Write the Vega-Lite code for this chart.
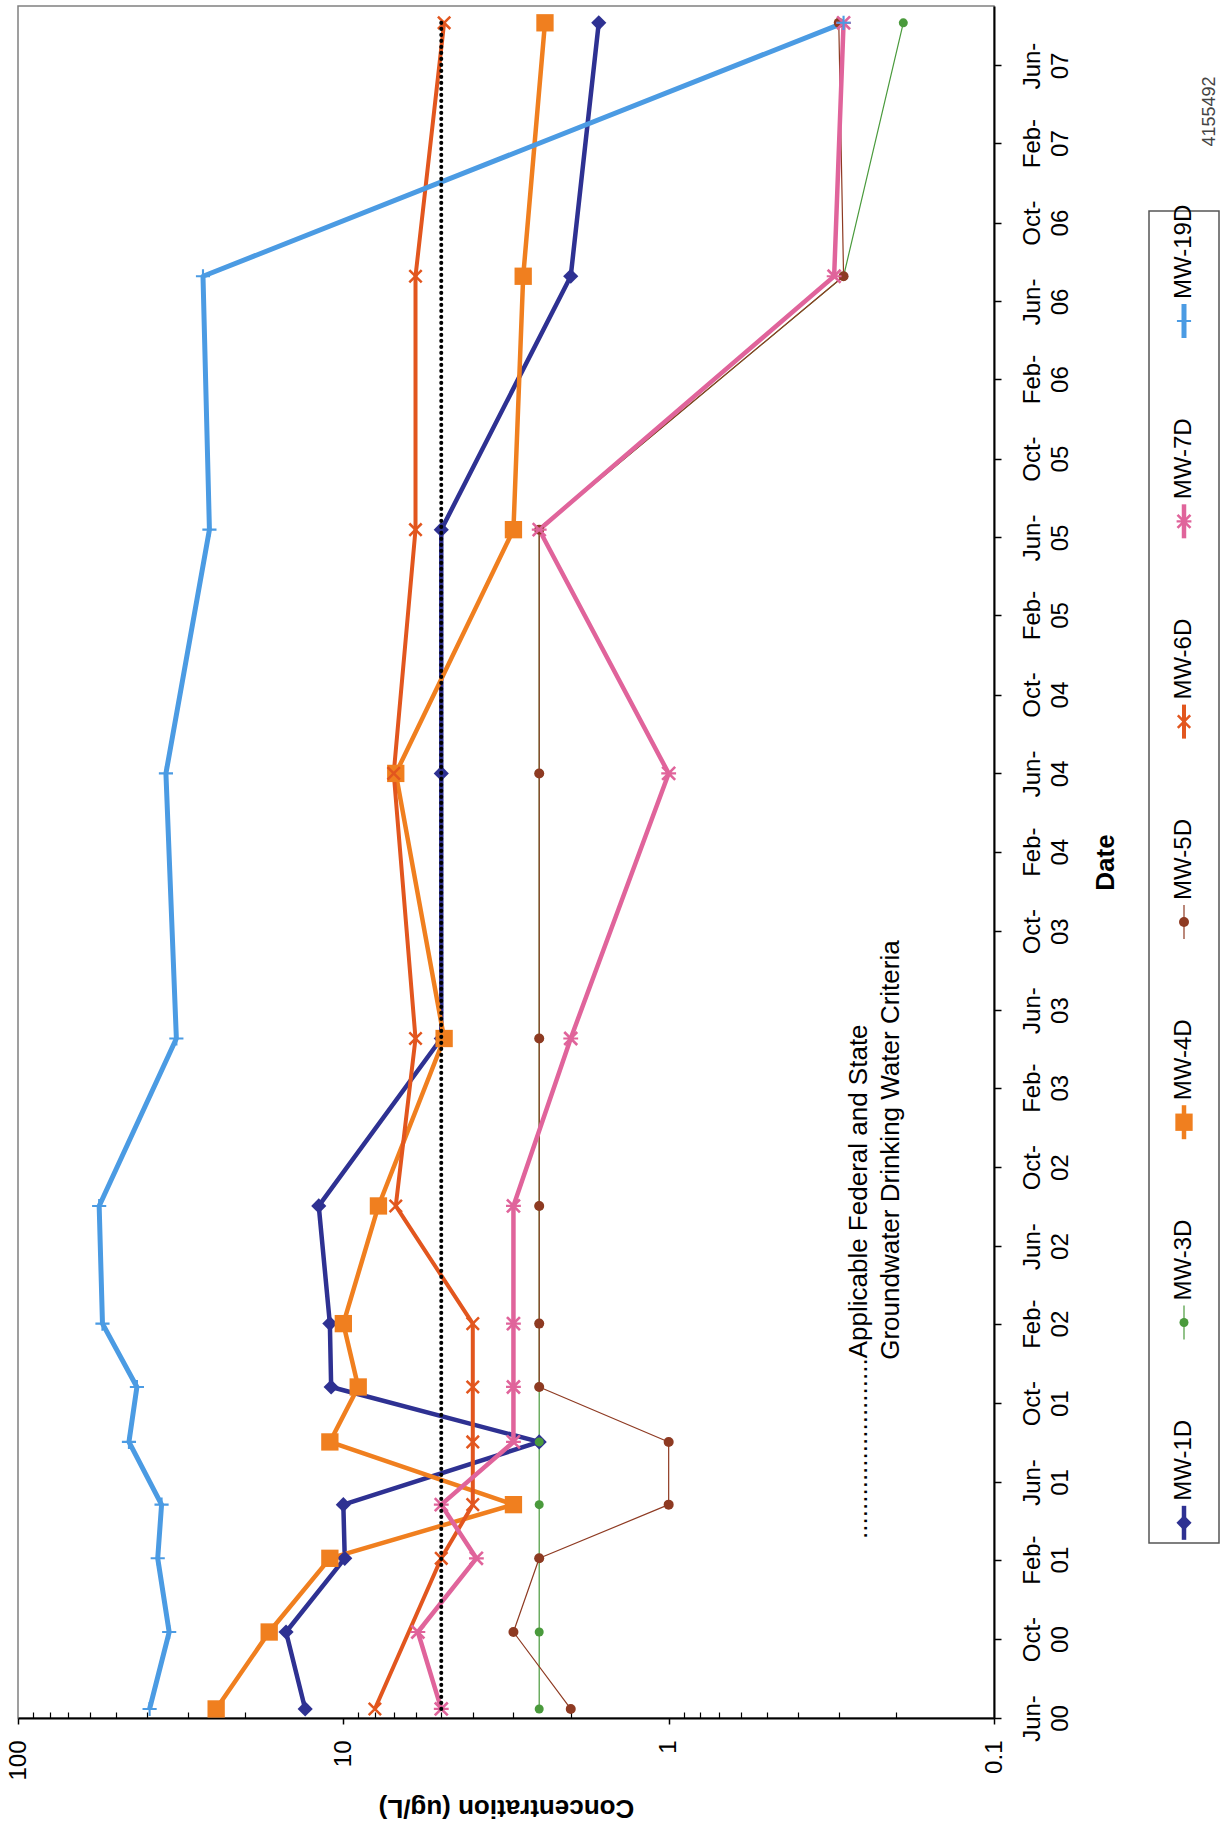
{
  "$schema": "https://vega.github.io/schema/vega-lite/v6.json",
  "background": "white",
  "padding": 5,
  "config": {"font": "Liberation Sans", "view": {"stroke": null}},
  "datasets": {
    "obs": [
      {"series": "MW-1D", "date": "2000-06-15", "conc": 13.1},
      {"series": "MW-1D", "date": "2000-10-12", "conc": 15.0},
      {"series": "MW-1D", "date": "2001-02-03", "conc": 9.9},
      {"series": "MW-1D", "date": "2001-04-27", "conc": 10.0},
      {"series": "MW-1D", "date": "2001-08-02", "conc": 2.5},
      {"series": "MW-1D", "date": "2001-10-26", "conc": 10.9},
      {"series": "MW-1D", "date": "2002-02-01", "conc": 11.0},
      {"series": "MW-1D", "date": "2002-08-02", "conc": 11.9},
      {"series": "MW-1D", "date": "2003-04-18", "conc": 5.0},
      {"series": "MW-1D", "date": "2004-06-01", "conc": 5.0},
      {"series": "MW-1D", "date": "2005-06-13", "conc": 5.0},
      {"series": "MW-1D", "date": "2006-07-10", "conc": 2.0},
      {"series": "MW-1D", "date": "2007-08-06", "conc": 1.64},
      {"series": "MW-3D", "date": "2000-06-15", "conc": 2.5},
      {"series": "MW-3D", "date": "2000-10-12", "conc": 2.5},
      {"series": "MW-3D", "date": "2001-02-03", "conc": 2.5},
      {"series": "MW-3D", "date": "2001-04-27", "conc": 2.5},
      {"series": "MW-3D", "date": "2001-08-02", "conc": 2.5},
      {"series": "MW-3D", "date": "2001-10-26", "conc": 2.5},
      {"series": "MW-3D", "date": "2002-02-01", "conc": 2.5},
      {"series": "MW-3D", "date": "2002-08-02", "conc": 2.5},
      {"series": "MW-3D", "date": "2003-04-18", "conc": 2.5},
      {"series": "MW-3D", "date": "2004-06-01", "conc": 2.5},
      {"series": "MW-3D", "date": "2005-06-13", "conc": 2.5},
      {"series": "MW-3D", "date": "2006-07-10", "conc": 0.29},
      {"series": "MW-3D", "date": "2007-08-06", "conc": 0.19},
      {"series": "MW-4D", "date": "2000-06-15", "conc": 24.6},
      {"series": "MW-4D", "date": "2000-10-12", "conc": 16.9},
      {"series": "MW-4D", "date": "2001-02-03", "conc": 11.0},
      {"series": "MW-4D", "date": "2001-04-27", "conc": 3.0},
      {"series": "MW-4D", "date": "2001-08-02", "conc": 11.0},
      {"series": "MW-4D", "date": "2001-10-26", "conc": 9.0},
      {"series": "MW-4D", "date": "2002-02-01", "conc": 10.0},
      {"series": "MW-4D", "date": "2002-08-02", "conc": 7.8},
      {"series": "MW-4D", "date": "2003-04-18", "conc": 4.9},
      {"series": "MW-4D", "date": "2004-06-01", "conc": 6.9},
      {"series": "MW-4D", "date": "2005-06-13", "conc": 3.0},
      {"series": "MW-4D", "date": "2006-07-10", "conc": 2.8},
      {"series": "MW-4D", "date": "2007-08-06", "conc": 2.4},
      {"series": "MW-5D", "date": "2000-06-15", "conc": 2.0},
      {"series": "MW-5D", "date": "2000-10-12", "conc": 3.0},
      {"series": "MW-5D", "date": "2001-02-03", "conc": 2.5},
      {"series": "MW-5D", "date": "2001-04-27", "conc": 1.0},
      {"series": "MW-5D", "date": "2001-08-02", "conc": 1.0},
      {"series": "MW-5D", "date": "2001-10-26", "conc": 2.5},
      {"series": "MW-5D", "date": "2002-02-01", "conc": 2.5},
      {"series": "MW-5D", "date": "2002-08-02", "conc": 2.5},
      {"series": "MW-5D", "date": "2003-04-18", "conc": 2.5},
      {"series": "MW-5D", "date": "2004-06-01", "conc": 2.5},
      {"series": "MW-5D", "date": "2005-06-13", "conc": 2.5},
      {"series": "MW-5D", "date": "2006-07-10", "conc": 0.29},
      {"series": "MW-5D", "date": "2007-08-06", "conc": 0.3},
      {"series": "MW-6D", "date": "2000-06-15", "conc": 8.0},
      {"series": "MW-6D", "date": "2001-02-03", "conc": 5.0},
      {"series": "MW-6D", "date": "2001-04-27", "conc": 4.0},
      {"series": "MW-6D", "date": "2001-08-02", "conc": 4.0},
      {"series": "MW-6D", "date": "2001-10-26", "conc": 4.0},
      {"series": "MW-6D", "date": "2002-02-01", "conc": 4.0},
      {"series": "MW-6D", "date": "2002-08-02", "conc": 6.9},
      {"series": "MW-6D", "date": "2003-04-18", "conc": 6.0},
      {"series": "MW-6D", "date": "2004-06-01", "conc": 7.0},
      {"series": "MW-6D", "date": "2005-06-13", "conc": 6.0},
      {"series": "MW-6D", "date": "2006-07-10", "conc": 6.0},
      {"series": "MW-6D", "date": "2007-08-06", "conc": 4.9},
      {"series": "MW-7D", "date": "2000-06-15", "conc": 5.0},
      {"series": "MW-7D", "date": "2000-10-12", "conc": 5.9},
      {"series": "MW-7D", "date": "2001-02-03", "conc": 3.9},
      {"series": "MW-7D", "date": "2001-04-27", "conc": 5.0},
      {"series": "MW-7D", "date": "2001-08-02", "conc": 3.0},
      {"series": "MW-7D", "date": "2001-10-26", "conc": 3.0},
      {"series": "MW-7D", "date": "2002-02-01", "conc": 3.0},
      {"series": "MW-7D", "date": "2002-08-02", "conc": 3.0},
      {"series": "MW-7D", "date": "2003-04-18", "conc": 2.0},
      {"series": "MW-7D", "date": "2004-06-01", "conc": 1.0},
      {"series": "MW-7D", "date": "2005-06-13", "conc": 2.5},
      {"series": "MW-7D", "date": "2006-07-10", "conc": 0.31},
      {"series": "MW-7D", "date": "2007-08-06", "conc": 0.29},
      {"series": "MW-19D", "date": "2000-06-15", "conc": 39.4},
      {"series": "MW-19D", "date": "2000-10-12", "conc": 34.3},
      {"series": "MW-19D", "date": "2001-02-03", "conc": 37.2},
      {"series": "MW-19D", "date": "2001-04-27", "conc": 36.2},
      {"series": "MW-19D", "date": "2001-08-02", "conc": 45.6},
      {"series": "MW-19D", "date": "2001-10-26", "conc": 43.1},
      {"series": "MW-19D", "date": "2002-02-01", "conc": 55.0},
      {"series": "MW-19D", "date": "2002-08-02", "conc": 56.3},
      {"series": "MW-19D", "date": "2003-04-18", "conc": 32.6},
      {"series": "MW-19D", "date": "2004-06-01", "conc": 35.1},
      {"series": "MW-19D", "date": "2005-06-13", "conc": 25.8},
      {"series": "MW-19D", "date": "2006-07-10", "conc": 27.0},
      {"series": "MW-19D", "date": "2007-08-06", "conc": 0.29}
    ],
    "criteria": [
      {"date": "2000-06-15", "conc": 5},
      {"date": "2007-08-06", "conc": 5}
    ],
    "legend": [
      {"series": "MW-1D"}, {"series": "MW-3D"}, {"series": "MW-4D"}, {"series": "MW-5D"},
      {"series": "MW-6D"}, {"series": "MW-7D"}, {"series": "MW-19D"}
    ]
  },
  "hconcat": [
    {
      "width": 976,
      "height": 1712,
      "view": {"stroke": "#808080", "strokeWidth": 1.5},
      "resolve": {"axis": {"x": "independent", "y": "independent"}},
      "layer": [
        {
          "data": {"name": "obs"},
          "mark": {"type": "line", "strokeJoin": "round"},
          "encoding": {
            "x": {
              "field": "conc", "type": "quantitative",
              "scale": {"type": "log", "domain": [0.1, 100], "reverse": true, "nice": false},
              "axis": {
                "orient": "bottom", "values": [100, 10, 1, 0.1], "format": "~g",
                "grid": false, "domainColor": "black", "domainWidth": 2,
                "tickColor": "black", "tickSize": 6, "tickWidth": 1.5,
                "labelAngle": 270, "labelAlign": "right", "labelBaseline": "middle",
                "labelFont": "Liberation Sans", "labelFontSize": 24, "labelColor": "black", "labelPadding": 16,
                "labelFlush": false, "labelOverlap": false, "labelBound": false,
                "title": "Concentration (ug/L)", "titleFont": "Liberation Sans", "titleFontSize": 26,
                "titleFontWeight": "bold", "titleColor": "black", "titleAngle": 180,
                "titleBaseline": "bottom", "titlePadding": 14
              }
            },
            "y": {
              "field": "date", "type": "temporal",
              "scale": {"type": "utc", "nice": false, "domain": [
                {"year": 2000, "month": 6, "date": 1, "utc": true},
                {"year": 2007, "month": 9, "date": 1, "utc": true}
              ]},
              "axis": {
                "orient": "right", "grid": false,
                "values": [
                  {"year": 2000, "month": 6, "date": 1, "utc": true},
                  {"year": 2000, "month": 10, "date": 1, "utc": true},
                  {"year": 2001, "month": 2, "date": 1, "utc": true},
                  {"year": 2001, "month": 6, "date": 1, "utc": true},
                  {"year": 2001, "month": 10, "date": 1, "utc": true},
                  {"year": 2002, "month": 2, "date": 1, "utc": true},
                  {"year": 2002, "month": 6, "date": 1, "utc": true},
                  {"year": 2002, "month": 10, "date": 1, "utc": true},
                  {"year": 2003, "month": 2, "date": 1, "utc": true},
                  {"year": 2003, "month": 6, "date": 1, "utc": true},
                  {"year": 2003, "month": 10, "date": 1, "utc": true},
                  {"year": 2004, "month": 2, "date": 1, "utc": true},
                  {"year": 2004, "month": 6, "date": 1, "utc": true},
                  {"year": 2004, "month": 10, "date": 1, "utc": true},
                  {"year": 2005, "month": 2, "date": 1, "utc": true},
                  {"year": 2005, "month": 6, "date": 1, "utc": true},
                  {"year": 2005, "month": 10, "date": 1, "utc": true},
                  {"year": 2006, "month": 2, "date": 1, "utc": true},
                  {"year": 2006, "month": 6, "date": 1, "utc": true},
                  {"year": 2006, "month": 10, "date": 1, "utc": true},
                  {"year": 2007, "month": 2, "date": 1, "utc": true},
                  {"year": 2007, "month": 6, "date": 1, "utc": true}
                ],
                "labelExpr": "[utcFormat(datum.value, '%b') + '-', utcFormat(datum.value, '%y')]",
                "domainColor": "black", "domainWidth": 2,
                "tickColor": "black", "tickSize": 7, "tickWidth": 1.5,
                "labelAngle": 270, "labelAlign": "center", "labelBaseline": "top",
                "labelFont": "Liberation Sans", "labelFontSize": 24, "labelLineHeight": 28,
                "labelColor": "black", "labelPadding": 19,
                "labelFlush": false, "labelOverlap": false, "labelBound": false,
                "title": "Date", "titleFont": "Liberation Sans", "titleFontSize": 26,
                "titleFontWeight": "bold", "titleColor": "black", "titleAngle": 270,
                "titleBaseline": "top", "titlePadding": 20
              }
            },
            "color": {
              "field": "series", "type": "nominal", "legend": null,
              "scale": {
                "domain": ["MW-1D", "MW-3D", "MW-4D", "MW-5D", "MW-6D", "MW-7D", "MW-19D"],
                "range": ["#2E3192", "#4A9A3C", "#F07F1F", "#8E3A22", "#E2561E", "#E0649B", "#4B9BE3"]
              }
            },
            "strokeWidth": {
              "field": "series", "type": "nominal", "legend": null,
              "scale": {
                "type": "ordinal",
                "domain": ["MW-1D", "MW-3D", "MW-4D", "MW-5D", "MW-6D", "MW-7D", "MW-19D"],
                "range": [4.5, 1.2, 4.5, 1.2, 4, 4.5, 5]
              }
            },
            "order": {"field": "date", "type": "temporal"}
          }
        },
        {
          "data": {"name": "obs"},
          "mark": {"type": "point", "filled": true, "opacity": 1},
          "encoding": {
            "x": {"field": "conc", "type": "quantitative", "axis": null},
            "y": {"field": "date", "type": "temporal", "axis": null},
            "color": {
              "field": "series", "type": "nominal", "legend": null,
              "scale": {
                "domain": ["MW-1D", "MW-3D", "MW-4D", "MW-5D", "MW-6D", "MW-7D", "MW-19D"],
                "range": ["#2E3192", "#4A9A3C", "#F07F1F", "#8E3A22", "#E2561E", "#E0649B", "#4B9BE3"]
              }
            },
            "shape": {
              "field": "series", "type": "nominal", "legend": null,
              "scale": {
                "domain": ["MW-1D", "MW-3D", "MW-4D", "MW-5D", "MW-6D", "MW-7D", "MW-19D"],
                "range": [
                  "diamond", "circle", "square", "circle",
                  "M-1,-0.75L-0.75,-1L1,0.75L0.75,1ZM0.75,-1L1,-0.75L-0.75,1L-1,0.75Z",
                  "M-1,-0.75L-0.75,-1L1,0.75L0.75,1ZM0.75,-1L1,-0.75L-0.75,1L-1,0.75ZM-1,-0.15L1,-0.15L1,0.15L-1,0.15Z",
                  "M-1,-0.15L1,-0.15L1,0.15L-1,0.15ZM-0.15,-1L0.15,-1L0.15,1L-0.15,1Z"
                ]
              }
            },
            "size": {
              "field": "series", "type": "nominal", "legend": null,
              "scale": {
                "type": "ordinal",
                "domain": ["MW-1D", "MW-3D", "MW-4D", "MW-5D", "MW-6D", "MW-7D", "MW-19D"],
                "range": [230, 81, 300, 100, 200, 220, 200]
              }
            }
          }
        },
        {
          "data": {"name": "criteria"},
          "mark": {"type": "line", "color": "black", "strokeWidth": 4, "strokeDash": [0.1, 5.9], "strokeCap": "round"},
          "encoding": {
            "x": {
              "field": "conc", "type": "quantitative",
              "axis": {
                "orient": "bottom", "title": null, "labels": false, "domain": false, "grid": false,
                "values": [0.2, 0.3, 0.4, 0.5, 0.6, 0.7, 0.8, 0.9, 2, 3, 4, 5, 6, 7, 8, 9, 20, 30, 40, 50, 60, 70, 80, 90],
                "tickColor": "black", "tickSize": -6, "tickWidth": 1.2
              }
            },
            "y": {"field": "date", "type": "temporal", "axis": null}
          }
        },
        {
          "data": {"values": [{}]},
          "mark": {"type": "text", "angle": 270, "align": "left", "baseline": "middle", "fontSize": 26,
                   "font": "Liberation Sans", "color": "black",
                   "text": ".........................Applicable Federal and State"},
          "encoding": {
            "x": {"datum": 0.26, "type": "quantitative", "axis": null},
            "y": {"datum": {"year": 2001, "month": 3, "date": 5, "utc": true}, "type": "temporal", "axis": null}
          }
        },
        {
          "data": {"values": [{}]},
          "mark": {"type": "text", "angle": 270, "align": "left", "baseline": "middle", "fontSize": 26,
                   "font": "Liberation Sans", "color": "black",
                   "text": "Groundwater Drinking Water Criteria"},
          "encoding": {
            "x": {"datum": 0.207, "type": "quantitative", "axis": null},
            "y": {"datum": {"year": 2001, "month": 12, "date": 7, "utc": true}, "type": "temporal", "axis": null}
          }
        }
      ]
    },
    {
      "spacing": 0,
      "bounds": "flush",
      "vconcat": [
        {
          "width": 70,
          "height": 205,
          "data": {"values": [{"id": "4155492"}]},
          "mark": {"type": "text", "angle": 270, "align": "left", "baseline": "middle", "dx": -38, "dy": 26,
                   "fontSize": 18, "font": "Liberation Sans", "color": "#444444"},
          "encoding": {"text": {"field": "id", "type": "nominal"}}
        },
        {
          "width": 70,
          "height": 1332,
          "view": {"stroke": "#555555", "strokeWidth": 1.5},
          "data": {"name": "legend"},
          "encoding": {
            "y": {
              "field": "series", "type": "nominal", "axis": null,
              "scale": {"type": "point", "domain": ["MW-19D", "MW-7D", "MW-6D", "MW-5D", "MW-4D", "MW-3D", "MW-1D"], "padding": 0.325, "align": 0.845}
            }
          },
          "layer": [
            {
              "mark": {"type": "point", "shape": "M0,-1L0,1", "size": 1156, "filled": false, "opacity": 1},
              "encoding": {
                "color": {
                  "field": "series", "type": "nominal", "legend": null,
                  "scale": {
                    "domain": ["MW-1D", "MW-3D", "MW-4D", "MW-5D", "MW-6D", "MW-7D", "MW-19D"],
                    "range": ["#2E3192", "#4A9A3C", "#F07F1F", "#8E3A22", "#E2561E", "#E0649B", "#4B9BE3"]
                  }
                },
                "strokeWidth": {
                  "field": "series", "type": "nominal", "legend": null,
                  "scale": {
                    "type": "ordinal",
                    "domain": ["MW-1D", "MW-3D", "MW-4D", "MW-5D", "MW-6D", "MW-7D", "MW-19D"],
                    "range": [4.5, 1.2, 4.5, 1.2, 4, 4.5, 5]
                  }
                }
              }
            },
            {
              "mark": {"type": "point", "filled": true, "opacity": 1},
              "encoding": {
                "color": {
                  "field": "series", "type": "nominal", "legend": null,
                  "scale": {
                    "domain": ["MW-1D", "MW-3D", "MW-4D", "MW-5D", "MW-6D", "MW-7D", "MW-19D"],
                    "range": ["#2E3192", "#4A9A3C", "#F07F1F", "#8E3A22", "#E2561E", "#E0649B", "#4B9BE3"]
                  }
                },
                "shape": {
                  "field": "series", "type": "nominal", "legend": null,
                  "scale": {
                    "domain": ["MW-1D", "MW-3D", "MW-4D", "MW-5D", "MW-6D", "MW-7D", "MW-19D"],
                    "range": [
                      "diamond", "circle", "square", "circle",
                      "M-1,-0.75L-0.75,-1L1,0.75L0.75,1ZM0.75,-1L1,-0.75L-0.75,1L-1,0.75Z",
                      "M-1,-0.75L-0.75,-1L1,0.75L0.75,1ZM0.75,-1L1,-0.75L-0.75,1L-1,0.75ZM-1,-0.15L1,-0.15L1,0.15L-1,0.15Z",
                      "M-1,-0.15L1,-0.15L1,0.15L-1,0.15ZM-0.15,-1L0.15,-1L0.15,1L-0.15,1Z"
                    ]
                  }
                },
                "size": {
                  "field": "series", "type": "nominal", "legend": null,
                  "scale": {
                    "type": "ordinal",
                    "domain": ["MW-1D", "MW-3D", "MW-4D", "MW-5D", "MW-6D", "MW-7D", "MW-19D"],
                    "range": [230, 81, 300, 100, 200, 220, 200]
                  }
                }
              }
            },
            {
              "mark": {"type": "text", "angle": 270, "align": "left", "baseline": "middle", "dx": 22,
                       "fontSize": 24, "font": "Liberation Sans", "color": "black"},
              "encoding": {"text": {"field": "series", "type": "nominal"}}
            }
          ]
        }
      ]
    }
  ],
  "spacing": 155,
  "bounds": "flush"
}
